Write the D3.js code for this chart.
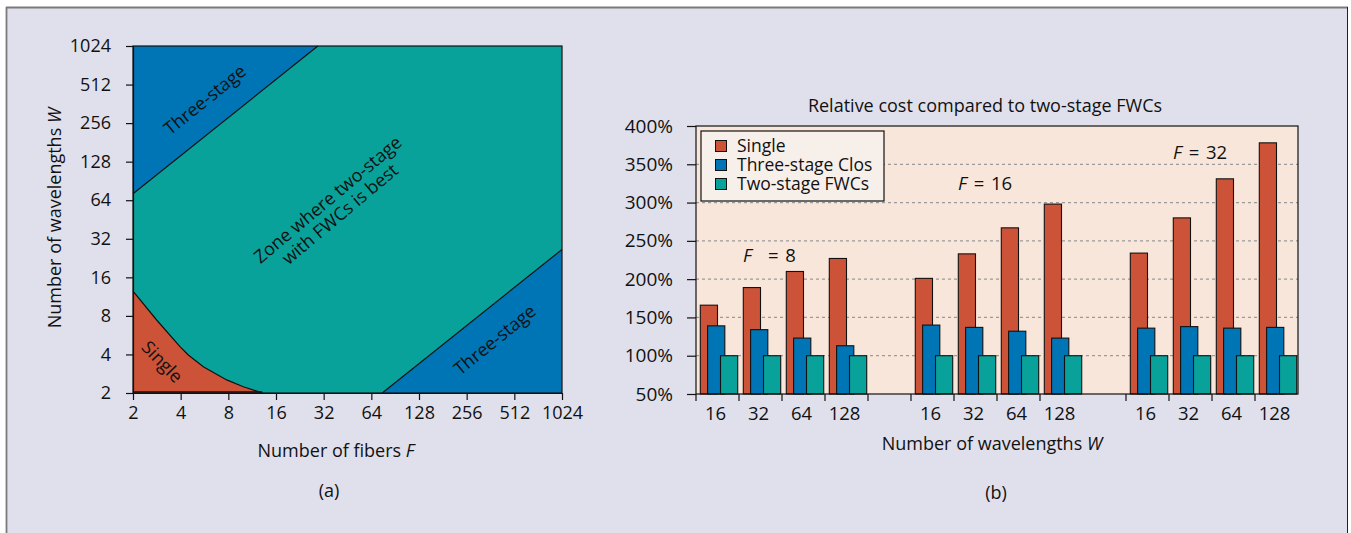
<!DOCTYPE html>
<html>
<head>
<meta charset="utf-8">
<script src="https://cdn.jsdelivr.net/npm/d3@7"></script>
<style>
    body { margin: 0; background: #ffffff; }
    text { font-family: "Open Sans", sans-serif; fill: #111; }
</style>
</head>
<body>
<div id="chart"></div>
<script>

//panel (a): zone borders as (fibers F, wavelengths W) points
const logTicks = [2, 4, 8, 16, 32, 64, 128, 256, 512, 1024];
const upperThreeStage = [[2, 72], [29.4, 1024]];
const lowerThreeStage = [[75, 2], [1024, 26.4]];
const singleEdge = [[2, 12.5], [2.82, 7.43], [3.96, 4.6], [4.47, 3.96], [5.56, 3.21], [7.81, 2.53], [9.95, 2.24], [13.1, 2]];

//panel (b): relative cost in %, one row per fiber count, one column per W
const fiberGroups = [8, 16, 32];
const wavelengths = [16, 32, 64, 128];
const seriesNames = ["Single", "Three-stage Clos", "Two-stage FWCs"];
const singleCost = [[166, 189, 210, 227], [201, 233, 267, 298], [234, 280, 331, 378]];
const closCost = [[139, 134, 123, 113], [140, 137, 132, 123], [136, 138, 136, 137]];
const fwcCost = [[100, 100, 100, 100], [100, 100, 100, 100], [100, 100, 100, 100]];
const costTicks = [50, 100, 150, 200, 250, 300, 350, 400];

const colors = { red: "#cd5338", blue: "#0075b6", teal: "#09a29b" };
const seriesColors = [colors.red, colors.blue, colors.teal];

const width = 1351;
const height = 533;

const svg = d3.select("#chart")
    .append("svg")
    .attr("width", width)
    .attr("height", height);

//outer frame
svg.append("rect")
    .attr("x", 6).attr("y", 8)
    .attr("width", 1341).attr("height", height - 8)
    .attr("fill", "#e0e0ec");
svg.append("line").attr("x1", 6).attr("x2", 1348).attr("y1", 7.5).attr("y2", 7.5)
    .attr("stroke", "#7a7a7a").attr("stroke-width", 1.8);
svg.append("line").attr("x1", 6.5).attr("x2", 6.5).attr("y1", 7).attr("y2", height)
    .attr("stroke", "#7a7a7a").attr("stroke-width", 1.8);
svg.append("line").attr("x1", 1347.5).attr("x2", 1347.5).attr("y1", 7).attr("y2", height)
    .attr("stroke", "#222").attr("stroke-width", 1);

// ---------------- panel (a) ----------------
const ax = d3.scaleLog().base(2).domain([2, 1024]).range([133, 562]);
const ay = d3.scaleLog().base(2).domain([2, 1024]).range([393, 46]);

const gA = svg.append("g");
const zoneLine = d3.line()
    .x(function(d) { return ax(d[0]); })
    .y(function(d) { return ay(d[1]); });

//two-stage zone fills everything, other zones on top
gA.append("rect")
    .attr("x", ax(2)).attr("y", ay(1024))
    .attr("width", ax(1024) - ax(2)).attr("height", ay(2) - ay(1024))
    .attr("fill", colors.teal);

gA.append("path")
    .attr("d", zoneLine([[2, 1024]].concat(upperThreeStage)) + "Z")
    .attr("fill", colors.blue);
gA.append("path")
    .attr("d", zoneLine([[1024, 2]].concat(lowerThreeStage)) + "Z")
    .attr("fill", colors.blue);
gA.append("path")
    .attr("d", zoneLine([[2, 2]].concat(singleEdge)) + "Z")
    .attr("fill", colors.red);

//border lines between zones
[upperThreeStage, lowerThreeStage, singleEdge].forEach(function(pts) {
    gA.append("path")
        .attr("d", zoneLine(pts))
        .attr("fill", "none")
        .attr("stroke", "#111")
        .attr("stroke-width", 1.2);
});

gA.append("rect")
    .attr("x", ax(2)).attr("y", ay(1024))
    .attr("width", ax(1024) - ax(2)).attr("height", ay(2) - ay(1024))
    .attr("fill", "none")
    .attr("stroke", "#111")
    .attr("stroke-width", 1.2);

//darker base under the single zone
gA.append("line")
    .attr("x1", ax(2)).attr("x2", ax(13.1))
    .attr("y1", ay(2) - 1).attr("y2", ay(2) - 1)
    .attr("stroke", "#111")
    .attr("stroke-width", 1.5);

//axes
gA.append("g")
    .attr("transform", "translate(" + ax(2) + ",0)")
    .call(d3.axisLeft(ay).tickValues(logTicks).tickFormat(d3.format("d"))
        .tickSize(7).tickSizeOuter(0).tickPadding(15))
    .call(function(g) {
        g.selectAll("text").style("font-size", "18px").attr("fill", "#111");
        g.selectAll("line,path").attr("stroke", "#111").attr("stroke-width", 1.2);
    });

gA.append("g")
    .attr("transform", "translate(0," + ay(2) + ")")
    .call(d3.axisBottom(ax).tickValues(logTicks).tickFormat(d3.format("d"))
        .tickSize(7).tickSizeOuter(0).tickPadding(6))
    .call(function(g) {
        g.selectAll("text").style("font-size", "18px").attr("fill", "#111");
        g.selectAll("line,path").attr("stroke", "#111").attr("stroke-width", 1.2);
    });

//zone labels, placed in (F, W) coordinates
const zoneLabels = [
    { text: ["Three-stage"], f: 5.7, w: 388, angle: -39 },
    { text: ["Zone where two-stage", "with FWCs is best"], f: 37.2, w: 56.6, angle: -40 },
    { text: ["Single"], f: 3.05, w: 3.49, angle: 46 },
    { text: ["Three-stage"], f: 386, w: 5.18, angle: -39 }
];

zoneLabels.forEach(function(l) {
    const t = gA.append("text")
        .attr("transform", "translate(" + ax(l.f) + "," + ay(l.w) + ") rotate(" + l.angle + ")")
        .attr("text-anchor", "middle")
        .style("font-size", "18px");
    l.text.forEach(function(s, i) {
        t.append("tspan")
            .attr("x", 0)
            .attr("y", (i - (l.text.length - 1) / 2) * 19 + 6)
            .text(s);
    });
});

//axis titles
const xTitleA = gA.append("text")
    .attr("x", 336).attr("y", 457)
    .attr("text-anchor", "middle")
    .style("font-size", "18px");
xTitleA.append("tspan").text("Number of fibers ");
xTitleA.append("tspan").style("font-style", "italic").text("F");

const yTitleA = gA.append("text")
    .attr("transform", "translate(61,218) rotate(-90)")
    .attr("text-anchor", "middle")
    .style("font-size", "18px");
yTitleA.append("tspan").text("Number of wavelengths ");
yTitleA.append("tspan").style("font-style", "italic").text("W");

gA.append("text")
    .attr("x", 329).attr("y", 497)
    .attr("text-anchor", "middle")
    .style("font-size", "18px")
    .text("(a)");

// ---------------- panel (b) ----------------
const slotKeys = [];
fiberGroups.forEach(function(f, gi) {
    if (gi > 0) slotKeys.push("gap" + gi);
    wavelengths.forEach(function(w) { slotKeys.push(f + "-" + w); });
});

const bx = d3.scaleBand().domain(slotKeys).range([696, 1298]).padding(0);
const by = d3.scaleLinear().domain([50, 400]).range([394, 126]);
const bw = bx.bandwidth();

const gB = svg.append("g");

gB.append("rect")
    .attr("x", bx.range()[0]).attr("y", by(400))
    .attr("width", bx.range()[1] - bx.range()[0]).attr("height", by(50) - by(400))
    .attr("fill", "#f8e6da");

//dotted grid
gB.selectAll(".grid")
    .data(costTicks.filter(function(d) { return d > 50 && d < 400; }))
    .enter()
    .append("line")
    .attr("x1", bx.range()[0]).attr("x2", bx.range()[1])
    .attr("y1", function(d) { return by(d); })
    .attr("y2", function(d) { return by(d); })
    .attr("stroke", "#9a9a9a")
    .attr("stroke-width", 1.3)
    .attr("stroke-dasharray", "3,3");

//bars: each series drawn over the previous one
const barLeft = [0.1, 0.27, 0.57];
const barFrac = 0.4;
const costs = [singleCost, closCost, fwcCost];

const bars = [];
costs.forEach(function(series, si) {
    fiberGroups.forEach(function(f, gi) {
        wavelengths.forEach(function(w, wi) {
            bars.push({ key: f + "-" + w, series: si, value: series[gi][wi] });
        });
    });
});

gB.selectAll(".bar")
    .data(bars)
    .enter()
    .append("rect")
    .attr("x", function(d) { return bx(d.key) + barLeft[d.series] * bw; })
    .attr("y", function(d) { return by(d.value); })
    .attr("width", barFrac * bw)
    .attr("height", function(d) { return by(50) - by(d.value); })
    .attr("fill", function(d) { return seriesColors[d.series]; })
    .attr("stroke", "#111")
    .attr("stroke-width", 1.1);

gB.append("rect")
    .attr("x", bx.range()[0]).attr("y", by(400))
    .attr("width", bx.range()[1] - bx.range()[0]).attr("height", by(50) - by(400))
    .attr("fill", "none")
    .attr("stroke", "#111")
    .attr("stroke-width", 1.2);

//y axis
gB.append("g")
    .attr("transform", "translate(" + bx.range()[0] + ",0)")
    .call(d3.axisLeft(by).tickValues(costTicks).tickFormat(function(d) { return d + "%"; })
        .tickSize(9).tickSizeOuter(0).tickPadding(14))
    .call(function(g) {
        g.select(".domain").remove();
        g.selectAll("text").style("font-size", "19px").attr("fill", "#111");
        g.selectAll("line").attr("stroke", "#111").attr("stroke-width", 1.2);
    });

//x axis: separators between W categories, labels centred in each slot
const catKeys = slotKeys.filter(function(k) { return k.indexOf("gap") < 0; });
const sepKeys = catKeys.concat(["gap1"]);

gB.selectAll(".sep")
    .data(sepKeys)
    .enter()
    .append("line")
    .attr("x1", function(d) { return bx(d); })
    .attr("x2", function(d) { return bx(d); })
    .attr("y1", by(50)).attr("y2", by(50) + 7)
    .attr("stroke", "#111")
    .attr("stroke-width", 1.2);

gB.selectAll(".wlabel")
    .data(catKeys)
    .enter()
    .append("text")
    .attr("x", function(d) { return bx(d) + bw / 2 - 2; })
    .attr("y", 420)
    .attr("text-anchor", "middle")
    .style("font-size", "18.5px")
    .text(function(d) { return d.split("-")[1]; });

//group annotations
const groupNotes = [
    { f: 8, key: "8-32", value: 223, gap: "\u2002 = " },
    { f: 16, key: "16-32", value: 317, gap: " = " },
    { f: 32, key: "32-32", value: 357, gap: " = " }
];
groupNotes.forEach(function(n) {
    const t = gB.append("text")
        .attr("x", bx(n.key) + 4)
        .attr("y", by(n.value))
        .style("font-size", "18.5px")
        .style("word-spacing", "2px");
    t.append("tspan").style("font-style", "italic").text("F");
    t.append("tspan").text(n.gap + n.f);
});

//title
gB.append("text")
    .attr("x", 985).attr("y", 111.5)
    .attr("text-anchor", "middle")
    .style("font-size", "18px")
    .text("Relative cost compared to two-stage FWCs");

//legend
const legend = gB.append("g").attr("transform", "translate(701,131)");
legend.append("rect")
    .attr("width", 183).attr("height", 70)
    .attr("fill", "#f7efea")
    .attr("stroke", "#111")
    .attr("stroke-width", 1.2);

legend.selectAll(".swatch")
    .data(seriesNames)
    .enter()
    .append("rect")
    .attr("x", 14.5)
    .attr("y", function(d, i) { return 9.5 + i * 19; })
    .attr("width", 11).attr("height", 11)
    .attr("fill", function(d, i) { return seriesColors[i]; })
    .attr("stroke", "#111")
    .attr("stroke-width", 1);

//one text block so the tight rows don't collide
legend.append("text")
    .style("font-size", "17.5px")
    .selectAll("tspan")
    .data(seriesNames)
    .enter()
    .append("tspan")
    .attr("x", 36)
    .attr("y", function(d, i) { return 21 + i * 19; })
    .text(function(d) { return d; });

//axis title
const xTitleB = gB.append("text")
    .attr("x", 992).attr("y", 450)
    .attr("text-anchor", "middle")
    .style("font-size", "18px");
xTitleB.append("tspan").text("Number of wavelengths ");
xTitleB.append("tspan").style("font-style", "italic").text("W");

gB.append("text")
    .attr("x", 996).attr("y", 499)
    .attr("text-anchor", "middle")
    .style("font-size", "18px")
    .text("(b)");

</script>
</body>
</html>
